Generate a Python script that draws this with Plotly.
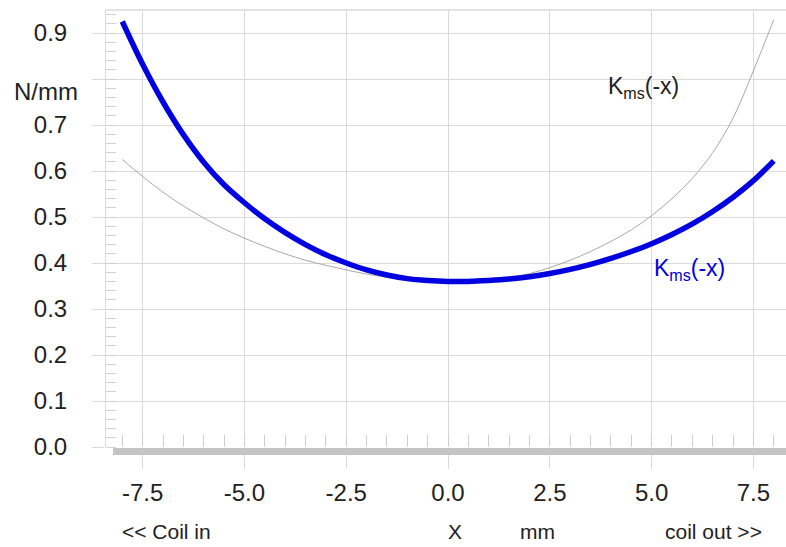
import plotly.graph_objects as go

# ---- data ----
x_mm = [-8.0, -7.5, -7.0, -6.5, -6.0, -5.5, -5.0, -4.5, -4.0, -3.5, -3.0, -2.5,
        -2.0, -1.5, -1.0, -0.5, 0.0, 0.5, 1.0, 1.5, 2.0, 2.5, 3.0, 3.5, 4.0,
        4.5, 5.0, 5.5, 6.0, 6.5, 7.0, 7.5, 8.0]

kms_blue = [0.925, 0.832, 0.750, 0.679, 0.619, 0.570, 0.531, 0.496, 0.466, 0.440,
            0.418, 0.400, 0.385, 0.374, 0.366, 0.362, 0.360, 0.360, 0.362, 0.365,
            0.370, 0.377, 0.386, 0.397, 0.410, 0.425, 0.442, 0.462, 0.485, 0.512,
            0.543, 0.579, 0.622]

kms_gray = [0.625, 0.588, 0.554, 0.524, 0.498, 0.474, 0.454, 0.436, 0.420, 0.406,
            0.395, 0.385, 0.376, 0.369, 0.364, 0.360, 0.359, 0.360, 0.363, 0.368,
            0.377, 0.390, 0.406, 0.425, 0.447, 0.472, 0.503, 0.540, 0.584, 0.640,
            0.715, 0.818, 0.929]

x_tickvals = [-7.5, -5.0, -2.5, 0.0, 2.5, 5.0, 7.5]
x_ticktext = ["-7.5", "-5.0", "-2.5", "0.0", "2.5", "5.0", "7.5"]
y_tickvals = [0.0, 0.1, 0.2, 0.3, 0.4, 0.5, 0.6, 0.7, 0.8, 0.9]
y_ticktext = ["0.0", "0.1", "0.2", "0.3", "0.4", "0.5", "0.6", "0.7", "", "0.9"]

FONT = "Liberation Sans, Arial, sans-serif"
GRID = "#dadada"
BLUE = "#0000e0"

fig = go.Figure()
fig.add_trace(go.Scatter(x=x_mm, y=kms_gray, mode="lines", line=dict(color="#a8a8a8", width=1, shape="spline"),
                         showlegend=False, hoverinfo="skip"))
fig.add_trace(go.Scatter(x=x_mm, y=kms_blue, mode="lines", line=dict(color=BLUE, width=5.5, shape="spline"),
                         showlegend=False, hoverinfo="skip"))

fig.update_layout(
    width=786, height=547,
    margin=dict(l=106, r=0, t=10, b=100),
    paper_bgcolor="white", plot_bgcolor="white",
    font=dict(family=FONT, color="#222222"),
    xaxis=dict(range=[-8.4, 8.3], tickvals=x_tickvals, ticktext=x_ticktext,
               showgrid=True, gridcolor=GRID, gridwidth=1,
               ticks="outside", ticklen=21, tickcolor=GRID, tickwidth=1,
               tickfont=dict(size=24, family=FONT, color="#222222"),
               ticklabelstandoff=3,
               minor=dict(dtick=0.5, tick0=0, ticks="inside", ticklen=12, tickcolor="#cfcfcf",
                          tickwidth=1, showgrid=False),
               showline=False, zeroline=False),
    yaxis=dict(range=[0, 0.95], tickvals=y_tickvals, ticktext=y_ticktext,
               showgrid=True, gridcolor=GRID, gridwidth=1,
               ticks="outside", ticklen=13, tickcolor=GRID, tickwidth=1,
               tickfont=dict(size=24, family=FONT, color="#222222"),
               ticklabelstandoff=20,
               minor=dict(dtick=0.02, tick0=0, ticks="inside", ticklen=10, tickcolor="#cfcfcf",
                          tickwidth=1, showgrid=False),
               showline=True, linecolor=GRID, linewidth=1, zeroline=False),
    shapes=[
        dict(type="line", xref="paper", yref="paper", x0=0, x1=1, y0=1, y1=1,
             line=dict(color=GRID, width=1.5)),
        dict(type="line", xref="paper", yref="paper", x0=0.0103, x1=1, y0=-0.0105, y1=-0.0105,
             line=dict(color="#c4c4c4", width=7)),
    ],
    annotations=[
        dict(text="N/mm", xref="paper", yref="paper", x=-0.038, y=0.8146, xanchor="right", yanchor="middle",
             showarrow=False, font=dict(size=24, family=FONT, color="#222222")),
        dict(text="<< Coil in", xref="paper", yref="paper", x=0.0897, y=-0.193, xanchor="center", yanchor="middle",
             showarrow=False, borderpad=0, font=dict(size=21, family=FONT, color="#222222")),
        dict(text="X", xref="paper", yref="paper", x=0.513, y=-0.193, xanchor="center", yanchor="middle",
             showarrow=False, borderpad=0, font=dict(size=21, family=FONT, color="#222222")),
        dict(text="mm", xref="paper", yref="paper", x=0.634, y=-0.193, xanchor="center", yanchor="middle",
             showarrow=False, borderpad=0, font=dict(size=21, family=FONT, color="#222222")),
        dict(text="coil out >>", xref="paper", yref="paper", x=0.894, y=-0.193, xanchor="center", yanchor="middle",
             showarrow=False, borderpad=0, font=dict(size=21, family=FONT, color="#222222")),
        dict(text="K<sub>ms</sub>(-x)", x=3.88, y=0.781, xanchor="left", yanchor="middle",
             showarrow=False, font=dict(size=23, family=FONT, color="#222222")),
        dict(text="K<sub>ms</sub>(-x)", x=5.02, y=0.386, xanchor="left", yanchor="middle",
             showarrow=False, font=dict(size=23, family=FONT, color=BLUE)),
    ],
)

fig.write_html("out.html")
